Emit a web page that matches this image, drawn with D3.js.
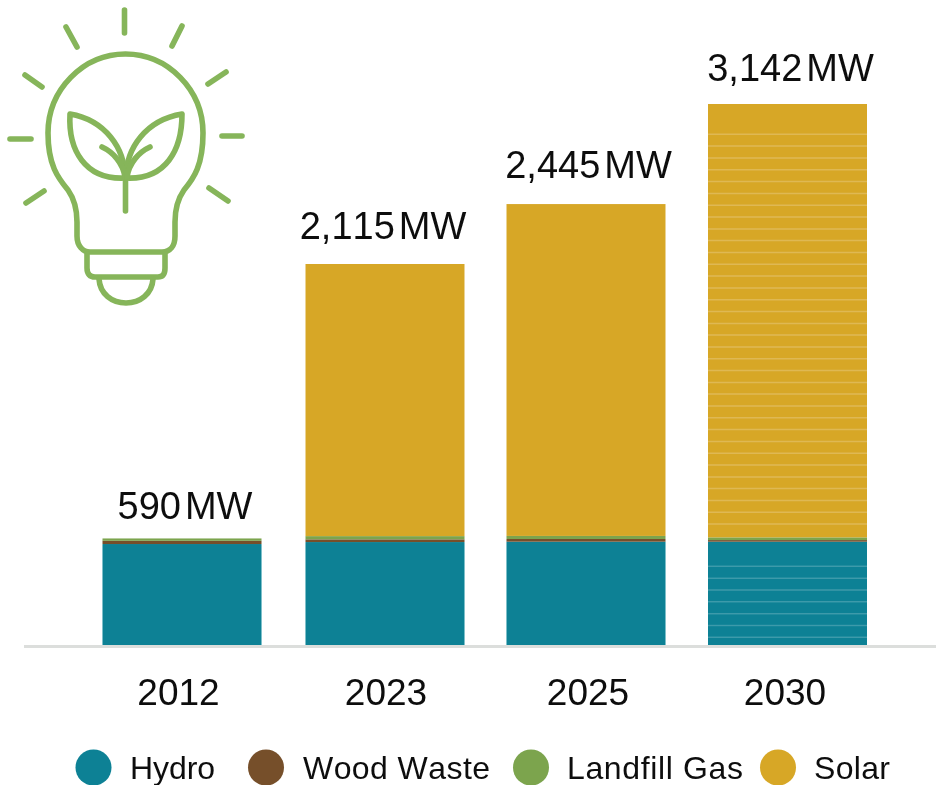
<!DOCTYPE html>
<html><head><meta charset="utf-8">
<script src="https://cdn.jsdelivr.net/npm/d3@7"></script>
<style>html,body{margin:0;padding:0;background:#fff}svg{display:block}text{font-family:"Liberation Sans",Arial,sans-serif;fill:#111;font-kerning:none;font-variant-ligatures:none}</style>
</head><body><div id="chart"></div>
<script>
const years = ["2012","2023","2025","2030"];
const seriesNames = ["Hydro","Wood Waste","Landfill Gas","Solar"];
const hydro = [561,572,574,574];
const woodWaste = [18,15,15,9];
const landfillGas = [13,18,17,15];
const solar = [0,1512,1844,2408];
const totalLabels = ["590","2,115","2,445","3,142"];
const seriesColors = ["#0d8195","#76502c","#7ba44e","#d7a728"];
const hydroStripes = [43,108,174,240,305,371,438];
const solarStripes = [672,737,803,869,934,1000,1066,1131,1197,1262,1328,1394,1459,1525,1591,1656,1722,1787,1853,1919,1984,2050,2116,2181,2247,2312,2378,2444,2509,2575,2641,2706,2772,2838];
const W=936,H=785;
const svg=d3.select("#chart").append("svg").attr("width",W).attr("height",H);
const defs=svg.append("defs");
defs.append("filter").attr("id","soft").append("feGaussianBlur").attr("stdDeviation",0.45);
const root=svg.append("g").attr("filter","url(#soft)");

const y=d3.scaleLinear().domain([0,3006]).range([645,104]);
const rows=years.map((yr,i)=>({year:yr,Hydro:hydro[i],"Wood Waste":woodWaste[i],"Landfill Gas":landfillGas[i],Solar:solar[i]}));
const stack=d3.stack().keys(seriesNames)(rows);
const color=d3.scaleOrdinal(seriesNames,seriesColors);
const barX=d3.scaleOrdinal(years,[102.5,305.5,506.5,708]);
const barW=159;

root.append("g").selectAll("g").data(stack).join("g").attr("fill",d=>color(d.key))
 .selectAll("rect").data(d=>d).join("rect")
 .attr("x",d=>barX(d.data.year)).attr("width",barW)
 .attr("y",d=>y(d[1])).attr("height",d=>Math.max(0,y(d[0])-y(d[1])));

// stripes on the projected bar
const last=years[years.length-1];
root.append("g").selectAll("line").data(hydroStripes.concat(solarStripes))
 .join("line").attr("x1",barX(last)).attr("x2",barX(last)+barW).attr("y1",d=>y(d)).attr("y2",d=>y(d))
 .attr("stroke","#fff").attr("stroke-opacity",0.2).attr("stroke-width",1.5);

// baseline
root.append("line").attr("x1",24).attr("x2",936).attr("y1",646.5).attr("y2",646.5).attr("stroke","#dcdedc").attr("stroke-width",3);

// year labels
const labelX=d3.scaleOrdinal(years,[178.5,386,588,785]);
root.append("g").selectAll("text").data(years).join("text").attr("x",d=>labelX(d)).attr("y",705)
 .attr("text-anchor","middle").attr("font-size",37).text(d=>d);

// totals
const totalX=[185,383,588.5,790.5], totalY=[519,239,178,81];
const tg=root.append("g").selectAll("text").data(years).join("text")
 .attr("x",(d,i)=>totalX[i]).attr("y",(d,i)=>totalY[i]).attr("text-anchor","middle").attr("font-size",38);
tg.append("tspan").text((d,i)=>totalLabels[i]);
tg.append("tspan").attr("dx",4).text("MW");

// legend
const legendCx=[93.5,266,531,778], legendTx=[130,303,567,814], legendLen=[85,187,176,76];
const lg=root.append("g").selectAll("g").data(seriesNames).join("g");
lg.append("circle").attr("cx",(d,i)=>legendCx[i]).attr("cy",767.5).attr("r",18).attr("fill",d=>color(d));
lg.append("text").attr("x",(d,i)=>legendTx[i]).attr("y",778.5).attr("font-size",32)
 .attr("textLength",(d,i)=>legendLen[i]).attr("lengthAdjust","spacing").text(d=>d);

// light bulb icon
const ic=root.append("g").attr("fill","none").attr("stroke","#86b55a").attr("stroke-width",5.6).attr("stroke-linecap","round").attr("stroke-linejoin","round");
const iconPaths=[
 "M124.5 10V33","M66 27L77 47","M182 26L172 46","M25 75L42 87","M226 72L208 84","M10 139H31","M222 136H242","M26 203L44 191","M209 188L228 201",
 "M48 133C48 165 58 178 68 190C75 200 77 210 77 222V236C77 246 83 252 90 252H162C170 252 175 246 175 236V222C175 210 177 200 184 190C194 178 203 165 203 133C203 90 168 54 125.5 54C83 54 48 90 48 133Z",
 "M87 254V268C87 274 90 277 95 277H158C163 277 165 274 165 268V254",
 "M99 279C100 294 112 303 126 303C140 303 152 294 153 279",
 "M125.5 173V211",
 "M125 178C125 148 105 120 70 114C68 150 85 180 125 178Z",
 "M126 178C126 148 146 120 182 114C182 150 166 180 126 178Z",
 "M102 147C113 152 123 163 125 177","M150 147C139 152 129 163 127 177"
];
ic.selectAll("path").data(iconPaths).join("path").attr("d",d=>d);
</script></body></html>
